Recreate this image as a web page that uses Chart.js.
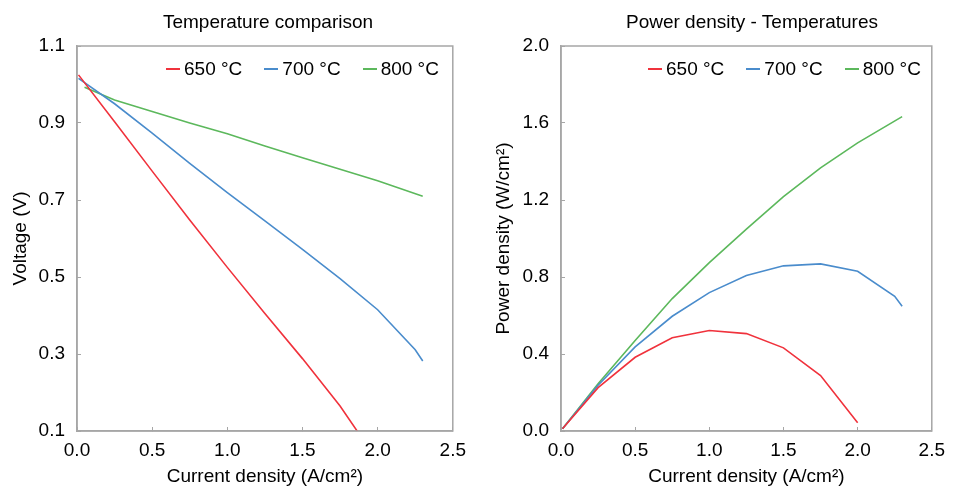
<!DOCTYPE html>
<html>
<head>
<meta charset="utf-8">
<script src="https://cdn.jsdelivr.net/npm/chart.js@4.4.1/dist/chart.umd.min.js"></script>
<style>
  html, body { margin: 0; padding: 0; background: #fff; }
  body { width: 957px; height: 491px; position: relative; overflow: hidden; font-family: "Liberation Sans", Arial, sans-serif; }
  .panel { position: absolute; top: 0; height: 491px; }
  .chart-title { position: absolute; top: 11px; text-align: center; font-size: 19px; line-height: 22px; color: #000; }
  .legend { position: absolute; top: 58px; display: flex; font-size: 19px; line-height: 22px; color: #000; white-space: nowrap; }
  .legend-item { display: flex; align-items: center; margin-right: 22px; }
  .legend-line { width: 14px; height: 2px; margin-right: 4px; }
</style>
</head>
<body>
<div class="panel" style="left:0;width:478px;">
  <div class="chart-title" style="left:77px;width:382px;">Temperature comparison</div>
  <div class="legend" id="voltLegend" style="left:166px;"></div>
  <canvas id="voltChart" width="478" height="491"></canvas>
</div>
<div class="panel" style="left:478px;width:479px;">
  <div class="chart-title" style="left:83px;width:382px;">Power density - Temperatures</div>
  <div class="legend" id="powerLegend" style="left:170px;"></div>
  <canvas id="powerChart" width="479" height="491"></canvas>
</div>
<script>
// series labels / colours
const seriesNames  = ['650 °C', '700 °C', '800 °C'];
const seriesColors = ['#f0323c', '#4a8ccc', '#5cb85c'];

// current density (A/cm2) for each temperature
const current650 = [0.01, 0.25, 0.5, 0.75, 1.0, 1.25, 1.5, 1.75, 2.0];
const current700 = [0.01, 0.25, 0.5, 0.75, 1.0, 1.25, 1.5, 1.75, 2.0, 2.25, 2.3];
const current800V = [0.05, 0.25, 0.5, 0.75, 1.0, 1.25, 1.5, 1.75, 2.0, 2.3];
const current800P = [0.01, 0.25, 0.5, 0.75, 1.0, 1.25, 1.5, 1.75, 2.0, 2.3];

// voltage (V)
const volt650 = [1.025, 0.903, 0.775, 0.648, 0.525, 0.405, 0.288, 0.165, 0.022];
const volt700 = [1.016, 0.95, 0.874, 0.795, 0.719, 0.646, 0.572, 0.496, 0.415, 0.311, 0.282];
const volt800 = [0.993, 0.96, 0.93, 0.90, 0.872, 0.84, 0.81, 0.78, 0.75, 0.71];

// power density (W/cm2)
const power650 = [0.012, 0.225, 0.383, 0.484, 0.522, 0.506, 0.432, 0.288, 0.043];
const power700 = [0.012, 0.238, 0.437, 0.596, 0.719, 0.808, 0.858, 0.868, 0.830, 0.700, 0.648];
const power800 = [0.012, 0.245, 0.47, 0.688, 0.875, 1.049, 1.217, 1.367, 1.497, 1.633];

// axis ticks
const xTicks = { min: 0, max: 2.5, step: 0.5 };
const voltTicks = { min: 0.1, max: 1.1, step: 0.2 };
const powerTicks = { min: 0, max: 2.0, step: 0.4 };

const FONT = '"Liberation Sans", Arial, sans-serif';
const AXIS_GREY = '#a6a6a6';

const toPoints = (xs, ys) => xs.map((x, k) => ({ x, y: ys[k] }));

function lineSet(k, xs, ys) {
  return {
    label: seriesNames[k],
    data: toPoints(xs, ys),
    borderColor: seriesColors[k],
    backgroundColor: seriesColors[k],
    borderWidth: 1.6,
    pointRadius: 0,
    tension: 0,
    fill: false,
  };
}

// legend sits inside the plot, top right
function buildLegend(id) {
  const box = document.getElementById(id);
  seriesNames.forEach((name, k) => {
    const item = document.createElement('span');
    item.className = 'legend-item';
    const line = document.createElement('span');
    line.className = 'legend-line';
    line.style.background = seriesColors[k];
    item.appendChild(line);
    item.appendChild(document.createTextNode(name));
    box.appendChild(item);
  });
}

// full box round the plot area
const frame = {
  id: 'frame',
  afterDraw(chart) {
    const { ctx, chartArea: a } = chart;
    ctx.save();
    ctx.strokeStyle = AXIS_GREY;
    ctx.lineWidth = 1.5;
    ctx.strokeRect(a.left, a.top, a.right - a.left, a.bottom - a.top);
    ctx.restore();
  },
};

function makeOptions(yt, yTitle, yWidth, yTitlePad, padRight) {
  return {
    responsive: false,
    animation: false,
    layout: { padding: { left: 0, right: padRight, top: 46, bottom: 0 } },
    plugins: {
      title: { display: false },
      tooltip: { enabled: false },
      legend: { display: false },
    },
    scales: {
      x: {
        type: 'linear',
        min: xTicks.min, max: xTicks.max,
        afterFit: (s) => { s.height = 60; },
        border: { display: true, color: AXIS_GREY, width: 1.5 },
        grid: { display: true, drawOnChartArea: false, drawTicks: true, tickLength: -4, color: AXIS_GREY, lineWidth: 1 },
        ticks: {
          stepSize: xTicks.step, padding: 12, color: '#000',
          font: { family: FONT, size: 19 },
          callback: (v) => v.toFixed(1),
        },
        title: {
          display: true, text: 'Current density (A/cm²)', color: '#000',
          font: { family: FONT, size: 19 }, padding: { top: 0, bottom: 3 },
        },
      },
      y: {
        type: 'linear',
        min: yt.min, max: yt.max,
        afterFit: (s) => { s.width = yWidth; },
        border: { display: true, color: AXIS_GREY, width: 1.5 },
        grid: { display: true, drawOnChartArea: false, drawTicks: true, tickLength: -4, color: AXIS_GREY, lineWidth: 1 },
        ticks: {
          stepSize: yt.step, padding: 16, color: '#000',
          font: { family: FONT, size: 19 },
          callback: (v) => v.toFixed(1),
        },
        title: {
          display: true, text: yTitle, color: '#000',
          font: { family: FONT, size: 19 }, padding: { top: yTitlePad, bottom: 0 },
        },
      },
    },
  };
}

buildLegend('voltLegend');
buildLegend('powerLegend');

new Chart(document.getElementById('voltChart'), {
  type: 'line',
  data: {
    datasets: [
      lineSet(0, current650, volt650),
      lineSet(1, current700, volt700),
      lineSet(2, current800V, volt800),
    ],
  },
  options: makeOptions(voltTicks, 'Voltage (V)', 77, 9, 19),
  plugins: [frame],
});

new Chart(document.getElementById('powerChart'), {
  type: 'line',
  data: {
    datasets: [
      lineSet(0, current650, power650),
      lineSet(1, current700, power700),
      lineSet(2, current800P, power800),
    ],
  },
  options: makeOptions(powerTicks, 'Power density (W/cm²)', 83, 14, 14),
  plugins: [frame],
});
</script>
</body>
</html>
